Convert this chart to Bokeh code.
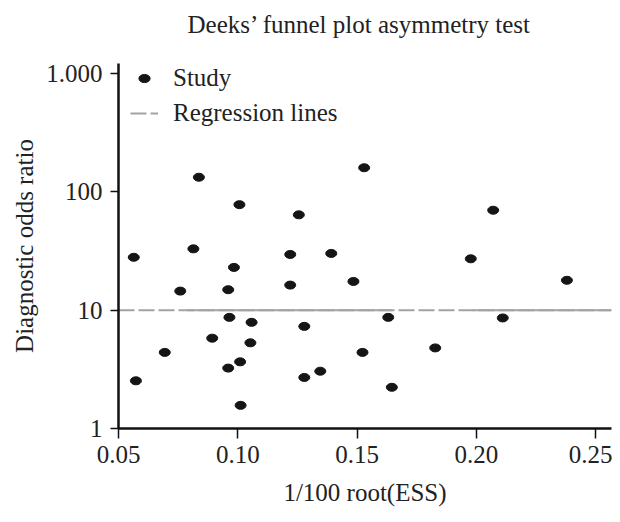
from bokeh.plotting import figure
from bokeh.models import FixedTicker, Legend, LegendItem, Title
from bokeh.embed import file_html
from bokeh.resources import INLINE

# ---- data ----
study_x = [0.0837, 0.1530, 0.1007, 0.1256, 0.0564, 0.0814, 0.1220, 0.1392, 0.0984,
           0.0759, 0.0960, 0.1220, 0.1485, 0.0965, 0.1058, 0.1279, 0.0893, 0.1053,
           0.0694, 0.1523, 0.1010, 0.0960, 0.1346, 0.1279, 0.0573, 0.1012, 0.2071,
           0.1977, 0.2380, 0.1631, 0.2111, 0.1828, 0.1646]
study_y = [133, 160, 78, 64, 28, 33, 29.6, 30.2, 23,
           14.5, 14.9, 16.3, 17.5, 8.7, 7.9, 7.3, 5.8, 5.3,
           4.4, 4.4, 3.66, 3.24, 3.05, 2.70, 2.53, 1.57, 70,
           27.2, 17.9, 8.7, 8.6, 4.8, 2.23]

reg_dashed_x = [0.05, 0.2567]
reg_dashed_y = [10, 10]
reg_solid_xs = [[0.0787, 0.1645], [0.1985, 0.2567]]
reg_solid_ys = [[10, 10], [10, 10]]

x_ticks = [0.05, 0.10, 0.15, 0.20, 0.25]
x_tick_labels = ["0.05", "0.10", "0.15", "0.20", "0.25"]
y_ticks = [1, 10, 100, 1000]
y_tick_labels = ["1", "10", "100", "1.000"]

TITLE = "Deeks\u2019 funnel plot asymmetry test"
FONT = "Liberation Serif"
TXT = "#222222"
FS = "25px"

p = figure(frame_width=493, frame_height=365,
           min_border_left=118, min_border_right=1,
           min_border_top=63, min_border_bottom=86,
           x_range=(0.05, 0.2567), y_range=(1, 1217),
           y_axis_type="log",
           output_backend="svg", toolbar_location=None)

# spacer between frame and title, then the title itself (outermost)
spacer = Title(text=" ", text_font_size="4px", standoff=10)
p.add_layout(spacer, "above")
main_title = Title(text=TITLE, text_font=FONT, text_font_size=FS,
                   text_font_style="normal", text_color=TXT,
                   align="left", offset=69, standoff=17)
p.add_layout(main_title, "above")

p.xgrid.visible = False
p.ygrid.visible = False
p.outline_line_color = None

for ax in (p.xaxis[0], p.yaxis[0]):
    ax.axis_line_width = 2.5
    ax.axis_line_color = "#111111"
    ax.major_tick_line_width = 1.5
    ax.major_tick_line_color = "#111111"
    ax.minor_tick_line_color = None
    ax.major_tick_in = 0
    ax.major_label_text_font = FONT
    ax.major_label_text_font_size = FS
    ax.major_label_text_color = TXT
    ax.axis_label_text_font = FONT
    ax.axis_label_text_font_size = FS
    ax.axis_label_text_font_style = "normal"
    ax.axis_label_text_color = TXT

p.xaxis.ticker = FixedTicker(ticks=x_ticks)
p.xaxis.major_label_overrides = {t: l for t, l in zip(x_ticks, x_tick_labels)}
p.xaxis.major_tick_out = 10
p.xaxis.major_label_standoff = 7
p.xaxis.axis_label = "1/100 root(ESS)"
p.xaxis.axis_label_standoff = 13

p.yaxis.ticker = FixedTicker(ticks=y_ticks)
p.yaxis.major_label_overrides = {t: l for t, l in zip(y_ticks, y_tick_labels)}
p.yaxis.major_tick_out = 8
p.yaxis.major_label_standoff = 8
p.yaxis.axis_label = "Diagnostic odds ratio"
p.yaxis.axis_label_standoff = 5

reg_line = p.line(reg_dashed_x, reg_dashed_y, line_color="#a3a3a3", line_width=2,
                  line_dash="16 4")
p.multi_line(reg_solid_xs, reg_solid_ys, line_color="#a3a3a3", line_width=2)

dots = p.ellipse(study_x, study_y, width=11, height=8, width_units="screen",
                 height_units="screen", fill_color="#151515", line_color="#151515")

legend = Legend(items=[LegendItem(label="Study", renderers=[dots]),
                       LegendItem(label="Regression lines", renderers=[reg_line])],
                location=(12, 300))
legend.border_line_color = None
legend.background_fill_alpha = 0
legend.padding = 0
legend.margin = 0
legend.spacing = 5
legend.glyph_width = 28
legend.glyph_height = 14
legend.label_height = 30
legend.label_standoff = 15
legend.label_text_font = FONT
legend.label_text_font_size = FS
legend.label_text_color = TXT
p.add_layout(legend)

open("out.html", "w").write(file_html(p, INLINE))
